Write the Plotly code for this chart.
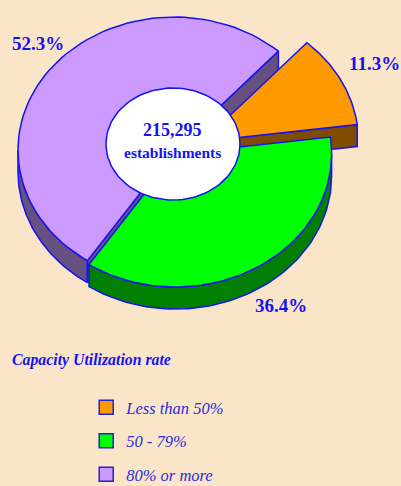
import numpy as np
import plotly.graph_objects as go

categories = ["Less than 50%", "50 - 79%", "80% or more"]
shares = [11.3, 36.4, 52.3]
share_labels = ["11.3%", "36.4%", "52.3%"]
total_lines = ["215,295", "establishments"]
legend_title = "Capacity Utilization rate"

top_colors = ["#FF9900", "#00FF00", "#CC99FF"]
side_colors = ["#7F4C00", "#007F00", "#665080"]
BLUE = "#1414F0"
BG = "#FAE5C8"

# pie projection, in pixel-scaled axis units
RX, RY, DEPTH = 156, 133, 22
START = 48.0
centers = [(202.5, 141.5), (175.6, 154), (174, 150)]
label_pos = [(374, 63), (281, 305), (38, 43)]

# clockwise sweep of each slice, from the shares
ends = START - np.cumsum(shares) * 3.6
starts = np.r_[START, ends[:-1]]


def arc(c, a0, a1, n=80):
    t = np.radians(np.linspace(a0, a1, n))
    return c[0] + RX * np.cos(t), c[1] - RY * np.sin(t)


fig = go.Figure()


def poly(x, y, fill, width=1.5):
    fig.add_trace(go.Scatter(
        x=list(x) + [x[0]], y=list(y) + [y[0]], mode="lines", fill="toself",
        fillcolor=fill, line=dict(color=BLUE, width=width),
        hoverinfo="skip", showlegend=False))


def side_arc(i, a0, a1):
    x, y = arc(centers[i], a0, a1)
    poly(np.r_[x, x[::-1]], np.r_[y, y[::-1] + DEPTH], side_colors[i])


def cut_face(i, a):
    c = centers[i]
    x, y = arc(c, a, a, 1)
    px = [c[0], x[0], x[0], c[0]]
    py = [c[1], y[0], y[0] + DEPTH, c[1] + DEPTH]
    poly(px, py, side_colors[i])


def top(i):
    c = centers[i]
    x, y = arc(c, starts[i], ends[i])
    poly(np.r_[c[0], x], np.r_[c[1], y], top_colors[i])


# back to front: 80% or more, less than 50%, 50 - 79%
side_arc(2, starts[2], -180)
cut_face(2, starts[2])
cut_face(2, ends[2])
top(2)
cut_face(0, ends[0])
top(0)
side_arc(1, 0, ends[1])
top(1)

# centre hole
hx, hy = (173 + 67 * np.cos(np.linspace(0, 2 * np.pi, 120)),
          144 + 56 * np.sin(np.linspace(0, 2 * np.pi, 120)))
poly(hx, hy, "white")

# legend entries
for name, col in zip(categories, top_colors):
    fig.add_trace(go.Scatter(
        x=[None], y=[None], mode="markers", name=name, legendgroup=name,
        marker=dict(symbol="square", size=14, color=col,
                    line=dict(color="#2020E0", width=1.5))))

serif = "Liberation Serif"
bold = dict(family=serif, size=19, color=BLUE, weight="bold")
for txt, (x, y) in zip(share_labels, label_pos):
    fig.add_annotation(x=x, y=y, text=txt, showarrow=False, font=bold)
fig.add_annotation(x=172, y=130, text=total_lines[0], showarrow=False,
                   font=dict(family=serif, size=18, color=BLUE, weight="bold"))
fig.add_annotation(x=172, y=152, text=total_lines[1], showarrow=False,
                   font=dict(family=serif, size=15.5, color=BLUE, weight="bold"))
fig.add_annotation(x=10, y=360, text=legend_title, showarrow=False, xanchor="left",
                   font=dict(family=serif, size=15.8, color=BLUE, weight="bold",
                             style="italic"))

fig.update_layout(
    width=401, height=486, margin=dict(l=0, r=0, t=0, b=0, autoexpand=False),
    paper_bgcolor=BG, plot_bgcolor=BG,
    xaxis=dict(range=[0, 401], visible=False, fixedrange=True),
    yaxis=dict(range=[486, 0], visible=False, fixedrange=True),
    legend=dict(x=0.215, y=0.1975, xanchor="left", yanchor="top",
                bgcolor="rgba(0,0,0,0)", tracegroupgap=9, itemclick=False,
                font=dict(family=serif, size=16.5, color="#2C2CD8", style="italic")),
)
fig.write_html("out.html", config=dict(displayModeBar=False),
               post_script="document.body.style.margin='0';document.body.style.overflow='hidden';")
